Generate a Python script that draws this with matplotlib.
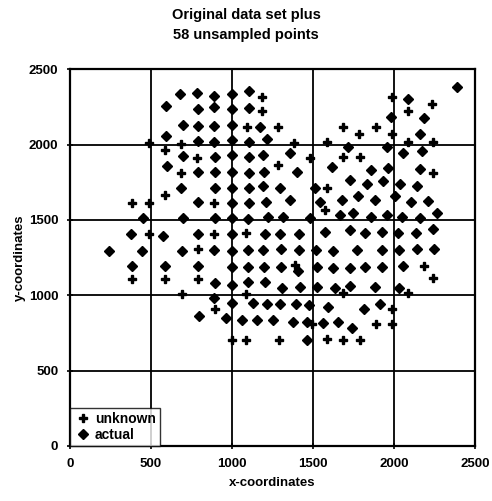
import matplotlib
matplotlib.use("Agg")
import matplotlib.pyplot as plt

# ---- data ----
actual_x = [680, 782, 890, 590, 788, 890, 695, 792, 890, 590, 788, 890, 699, 895, 597, 792, 895, 685, 895, 788,
            452, 699, 895, 376, 572, 788, 241, 446, 689, 890, 384, 586, 788, 895, 890, 796,
            998, 998, 998, 998, 998, 998, 998, 998, 998, 998, 998, 998, 998, 998, 962,
            1106, 1106, 1106, 1106, 1106, 1106, 1106, 1100, 1100, 1100, 1100, 1131, 1059,
            1172, 1214, 1193, 1199, 1193, 1209, 1223, 1203, 1193, 1199, 1203, 1214, 1152,
            1296, 1316, 1296, 1300, 1302, 1306, 1296, 1254,
            1357, 1402, 1357, 1415, 1413, 1409, 1419, 1394, 1378, 1481,
            1512, 1543, 1518, 1522, 1526, 1476, 1464, 1464,
            1615, 1573, 1625, 1625, 1635, 1594, 1559,
            1717, 1728, 1676, 1666, 1748, 1728, 1773, 1728, 1728, 1655, 1738,
            1861, 1831, 1779, 1861, 1820, 1820, 1814,
            1979, 1954, 1964, 1933, 1882, 2005, 1954, 1923, 1923, 1929, 1882, 1913,
            2084, 2053, 2036, 2108, 2047, 2026, 2032, 2056, 2032,
            2184, 2160, 2170, 2160, 2139, 2211, 2160, 2263, 2135, 2242, 2139, 2248,
            2386]
actual_y = [2336, 2341, 2325, 2257, 2235, 2248, 2130, 2124, 2124, 2059, 2026, 2020, 1925, 1920, 1860, 1817, 1821, 1710, 1710, 1617,
            1511, 1511, 1511, 1405, 1394, 1405, 1296, 1296, 1296, 1301, 1195, 1197, 1195, 1084, 980, 863,
            2336, 2235, 2130, 2031, 1931, 1821, 1710, 1611, 1515, 1405, 1296, 1190, 1069, 951, 848,
            2356, 2245, 2020, 1920, 1814, 1714, 1615, 1507, 1301, 1190, 1086, 951, 836,
            2115, 2038, 1931, 1821, 1728, 1621, 1522, 1405, 1301, 1190, 1086, 942, 836,
            1710, 1522, 1405, 1305, 1190, 1047, 942, 836,
            1943, 1821, 1633, 1405, 1301, 1163, 1057, 942, 821, 1515,
            1710, 1621, 1301, 1190, 1057, 936, 821, 704,
            1854, 1418, 1296, 1179, 1047, 925, 814,
            1986, 1765, 1633, 1533, 1544, 1434, 1301, 1179, 1062, 821, 781,
            1832, 1737, 1661, 1522, 1412, 1186, 907,
            2182, 1982, 1843, 1759, 1633, 1661, 1533, 1422, 1301, 1186, 1053, 940,
            2301, 1943, 1737, 1621, 1522, 1412, 1301, 1197, 1051,
            2175, 2069, 1958, 1838, 1728, 1626, 1515, 1544, 1412, 1440, 1305, 1305,
            2385]

unknown_x = [489, 685, 586, 782, 685, 586, 384, 489, 890, 489, 890, 788, 384, 586, 788, 689, 895,
             998,
             1090, 1086, 1086, 1086,
             1183, 1183,
             1285, 1285, 1291,
             1382, 1388,
             1481, 1491,
             1584, 1584, 1573, 1588,
             1686, 1686, 1686, 1686,
             1785, 1789, 1789,
             1888, 1985, 1985, 1888, 1985, 1985,
             2084, 2087, 2087,
             2235, 2238, 2238, 2186, 2238]
unknown_y = [2009, 2004, 1965, 1913, 1810, 1666, 1615, 1615, 1615, 1405, 1405, 1305, 1108, 1108, 1108, 1007, 907,
             704,
             2119, 1412, 1007, 704,
             2318, 2223,
             2115, 1865, 704,
             2009, 1201,
             1909, 810,
             2016, 1710, 1566, 710,
             2119, 1920, 1013, 704,
             2069, 1920, 704,
             2115, 2318, 2069, 808, 907, 808,
             2223, 2020, 1013,
             2268, 2020, 1814, 1195, 1113]

title_text = "Original data set plus\n58 unsampled points"
x_label = "x-coordinates"
y_label = "y-coordinates"
ticks = [0, 500, 1000, 1500, 2000, 2500]

plt.rcParams['font.family'] = ['Liberation Sans', 'DejaVu Sans']
plt.rcParams['font.weight'] = 'bold'

fig = plt.figure(figsize=(4.92, 5.01), dpi=100)
ax = fig.add_axes([70/492, 1-446/501, 405/492, (446-69.3)/501])

ax.set_xlim(0, 2500)
ax.set_ylim(0, 2500)
ax.set_xticks(ticks)
ax.set_yticks(ticks)
ax.grid(True, color='black', linewidth=1.3)
ax.set_axisbelow(True)

ax.plot(unknown_x, unknown_y, linestyle='none', marker='P', markersize=5.5,
        color='black', label='unknown', zorder=3)
ax.plot(actual_x, actual_y, linestyle='none', marker='D', markersize=5.5,
        color='black', label='actual', zorder=3)

for s in ax.spines.values():
    s.set_linewidth(1.6)
    s.set_color('black')

ax.tick_params(direction='inout', length=5, width=1.2, labelsize=9.5, pad=6)
for lab in ax.get_xticklabels() + ax.get_yticklabels():
    lab.set_fontweight('bold')

ax.set_xlabel(x_label, fontsize=9.5, fontweight='bold', labelpad=5)
ax.set_ylabel(y_label, fontsize=9.5, fontweight='bold', labelpad=2)
fig.suptitle(title_text, fontsize=10.5, fontweight='bold', y=0.985, linespacing=1.6)

leg = ax.legend(loc='lower left', bbox_to_anchor=(0, 0), frameon=True, fancybox=False,
                edgecolor='black', fontsize=10, borderpad=0.3, handletextpad=0.2,
                handlelength=1.3, labelspacing=0.15, borderaxespad=0)
leg.get_frame().set_linewidth(1.0)
for t in leg.get_texts():
    t.set_fontweight('bold')

fig.savefig("out.png", dpi=100)
